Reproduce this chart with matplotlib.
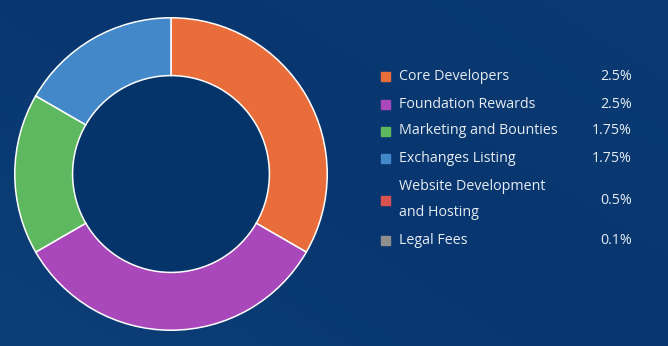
import numpy as np
import matplotlib.pyplot as plt

plt.rcParams['font.family'] = ['Open Sans', 'DejaVu Sans']

# legend entries and their stated percentages
categories = ["Core Developers", "Foundation Rewards", "Marketing and Bounties",
              "Exchanges Listing", "Website Development\nand Hosting", "Legal Fees"]
pct_labels = ["2.5%", "2.5%", "1.75%", "1.75%", "0.5%", "0.1%"]
colors = ['#E86D3A', '#A948BA', '#5DB860', '#4389CA', '#D9534F', '#8E8E8E']

# slice sizes as drawn in the ring (only the first four are visible)
slice_share = [2, 2, 1, 1]

W, H = 668, 346
fig = plt.figure(figsize=(W / 100, H / 100), dpi=100)

# background: navy with a soft gradient
bg = fig.add_axes([0, 0, 1, 1])
yy, xx = np.mgrid[0:1:200j, 0:1:400j]
grad = 0.55 * xx + 0.45 * yy
bg.imshow(grad, extent=[0, W, 0, H], cmap=plt.matplotlib.colors.LinearSegmentedColormap.from_list(
    'bg', ['#0d3f77', '#083670', '#0b3b72']), aspect='auto', origin='lower')
bg.set_xlim(0, W)
bg.set_ylim(0, H)
bg.axis('off')

# donut
cx, cy, r = 171, 174, 157
ax = fig.add_axes([(cx - r) / W, (H - cy - r) / H, 2 * r / W, 2 * r / H])
ax.pie(slice_share, colors=colors[:4], startangle=90, counterclock=False,
       wedgeprops=dict(width=0.37, edgecolor='white', linewidth=1.1))
ax.add_patch(plt.Circle((0, 0), 0.63, color='#05346a', zorder=0))
ax.set_xlim(-1.005, 1.005)
ax.set_ylim(-1.005, 1.005)
ax.axis('off')

# legend drawn as text rows
row_y = [76, 104, 131, 158, 200, 240]
for name, pct, col, y in zip(categories, pct_labels, colors, row_y):
    yd = H - y
    bg.add_patch(plt.Rectangle((381, yd - 4.5), 9, 9, color=col, zorder=3))
    bg.text(399, yd, name, color='#e6ecf3', fontsize=10.3, va='center', ha='left',
            linespacing=2.0, zorder=3)
    bg.text(632, yd, pct, color='#e6ecf3', fontsize=10.3, va='center', ha='right', zorder=3)

fig.savefig('out.png', dpi=100)
